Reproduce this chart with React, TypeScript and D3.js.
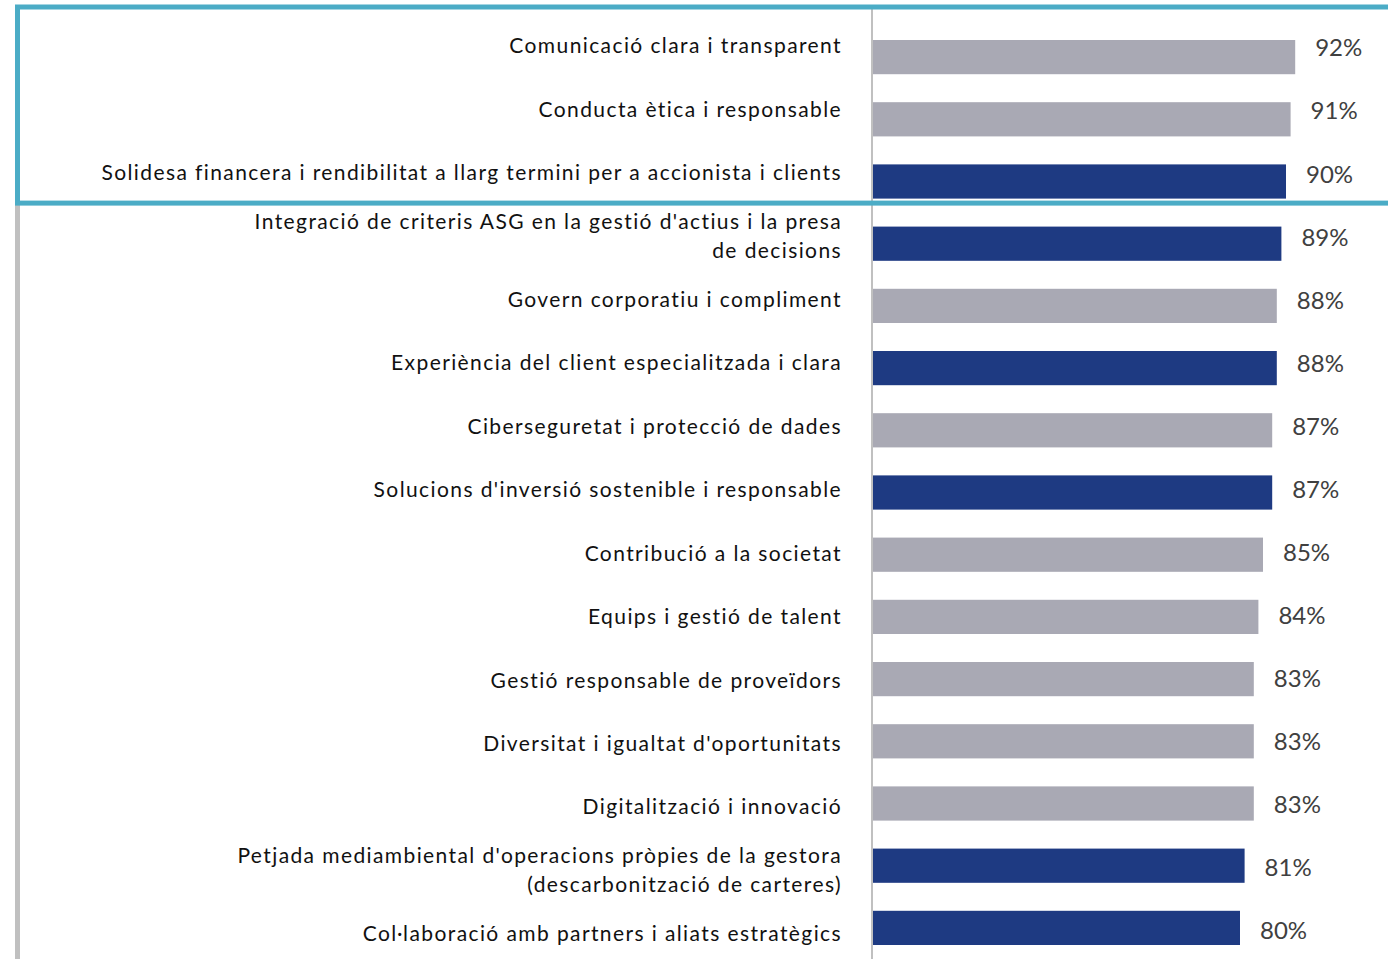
import { useEffect, useRef } from "react";
import * as d3 from "d3";

const labels = [
  ["Comunicació clara i transparent"],
  ["Conducta ètica i responsable"],
  ["Solidesa financera i rendibilitat a llarg termini per a accionista i clients"],
  ["Integració de criteris ASG en la gestió d'actius i la presa", "de decisions"],
  ["Govern corporatiu i compliment"],
  ["Experiència del client especialitzada i clara"],
  ["Ciberseguretat i protecció de dades"],
  ["Solucions d'inversió sostenible i responsable"],
  ["Contribució a la societat"],
  ["Equips i gestió de talent"],
  ["Gestió responsable de proveïdors"],
  ["Diversitat i igualtat d'oportunitats"],
  ["Digitalització i innovació"],
  ["Petjada mediambiental d'operacions pròpies de la gestora", "(descarbonització de carteres)"],
  ["Col·laboració amb partners i aliats estratègics"],
];
const values = [92, 91, 90, 89, 88, 88, 87, 87, 85, 84, 83, 83, 83, 81, 80];
// true = highlighted (navy) topic
const highlighted = [false, false, true, true, false, true, false, true, false, false, false, false, false, true, true];

const W = 1388;
const H = 959;
const FONT = "Lato, 'Open Sans', sans-serif";

function App() {
  const ref = useRef<SVGSVGElement>(null);

  useEffect(() => {
    const svg = d3.select(ref.current);
    svg.selectAll("*").remove();

    const axisX = 872;
    const idx = d3.range(values.length);
    const x = d3.scaleLinear().domain([0, 100]).range([axisX, axisX + 460]);
    const y = d3
      .scaleBand<number>()
      .domain(idx)
      .range([26, 26 + values.length * 62.2])
      .paddingInner(0.45)
      .paddingOuter(0.225);
    // text rows sit on a slightly looser grid than the bars
    const yLab = d3.scalePoint<number>().domain(idx).range([46, 934]);
    const yVal = d3.scalePoint<number>().domain(idx).range([48, 931]);

    // left grey rule
    svg.append("rect").attr("x", 15).attr("y", 203).attr("width", 5).attr("height", H - 203).attr("fill", "#c0c0c0");

    // vertical axis
    svg
      .append("line")
      .attr("x1", axisX)
      .attr("x2", axisX)
      .attr("y1", 9)
      .attr("y2", H)
      .attr("stroke", "#c0c0c0")
      .attr("stroke-width", 2);

    // bars
    svg
      .selectAll("rect.bar")
      .data(values)
      .enter()
      .append("rect")
      .attr("class", "bar")
      .attr("x", axisX + 1)
      .attr("y", (_, i) => y(i)!)
      .attr("width", (d) => x(d) - axisX - 1)
      .attr("height", y.bandwidth())
      .attr("fill", (_, i) => (highlighted[i] ? "#1e3a82" : "#a9a9b4"));

    // value labels
    svg
      .selectAll("text.val")
      .data(values)
      .enter()
      .append("text")
      .attr("class", "val")
      .attr("x", (d) => x(d) + 20)
      .attr("y", (_, i) => yVal(i)!)
      .attr("dy", "0.35em")
      .attr("font-family", FONT)
      .attr("font-size", 24)
      .attr("fill", "#404040")
      .text((d) => `${d}%`);

    // category labels
    const lab = svg
      .selectAll("text.cat")
      .data(labels)
      .enter()
      .append("text")
      .attr("class", "cat")
      .attr("text-anchor", "end")
      .attr("font-family", FONT)
      .attr("font-size", 21)
      .attr("letter-spacing", 1.4)
      .attr("fill", "#111");
    lab
      .selectAll("tspan")
      .data((d, i) => d.map((t, j) => ({ t, j, n: d.length, i })))
      .enter()
      .append("tspan")
      .attr("x", 842)
      .attr("y", (d) => yLab(d.i)! + (d.j - (d.n - 1) / 2) * 29)
      .attr("dy", "0.35em")
      .text((d) => d.t);

    // highlight box around top three topics
    const boxBottom = y(2)! + y.bandwidth() + 2;
    svg
      .append("rect")
      .attr("x", 17.5)
      .attr("y", 7)
      .attr("width", W)
      .attr("height", boxBottom + 2.5 - 7)
      .attr("fill", "none")
      .attr("stroke", "#4bacc6")
      .attr("stroke-width", 5);
  }, []);

  return (
    <svg
      ref={ref}
      width={W}
      height={H}
      style={{ position: "absolute", left: 0, top: 0, background: "#fff" }}
    />
  );
}

export default App;
